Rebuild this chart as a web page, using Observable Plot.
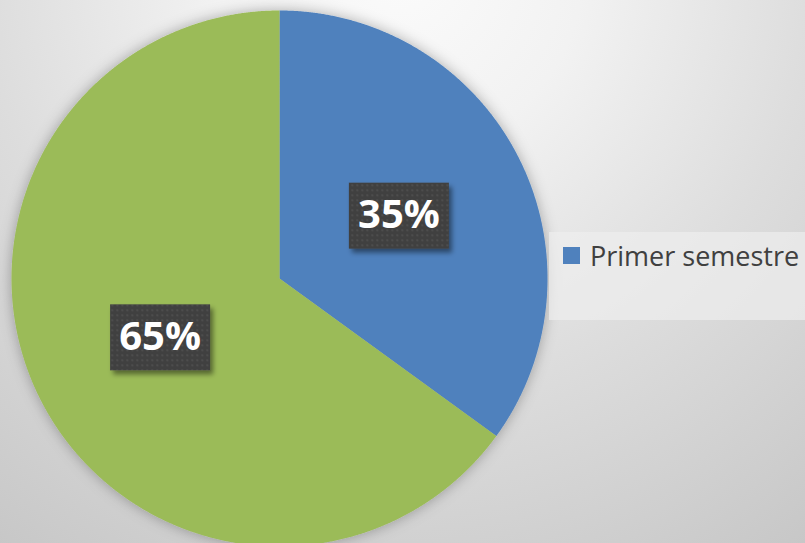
<!DOCTYPE html>
<html><head><meta charset="utf-8">
<script src="https://cdn.jsdelivr.net/npm/d3@7"></script>
<script src="https://cdn.jsdelivr.net/npm/@observablehq/plot@0.6"></script>
<style>
html,body{margin:0;padding:0;background:#d4d4d4;}
#wrap{position:relative;width:805px;height:543px;overflow:hidden;
  background:radial-gradient(circle 730px at 400px -30px, #fbfbfb 0%, #f2f2f2 25%, #dddddd 57%, #c6c6c6 98%, #c5c5c5 100%);}
#wrap svg{position:absolute;left:0;top:0;}
#legend{position:absolute;left:549px;top:232px;width:270px;height:88px;background:rgba(238,238,238,0.7);
  font-family:"Open Sans",sans-serif;font-size:27px;color:#404040;}
#legend .item{position:absolute;left:14px;top:5px;white-space:nowrap;display:flex;align-items:center;}
#legend .sw{width:17px;height:17px;margin-right:10px;}
</style></head><body><div id="wrap"><div id="legend"></div></div>
<script>
const categories = ["Primer semestre", "Segundo semestre"];
const values = [35, 65];
const labels = ["35%", "65%"];
const colors = ["#4F81BD", "#9BBB59"];
const legendItems = ["Primer semestre"];

const arcs = d3.pie().sort(null).value(d => d.value)(
  categories.map((c, i) => ({category: c, value: values[i], label: labels[i]}))
);
// slice outlines (geometry only)
const slicePts = [];
for (const a of arcs) {
  const n = Math.ceil((a.endAngle - a.startAngle) / 0.004);
  slicePts.push({category: a.data.category, x: 0, y: 0});
  for (let k = 0; k <= n; k++) {
    const t = a.startAngle + (a.endAngle - a.startAngle) * k / n;
    slicePts.push({category: a.data.category, x: Math.sin(t), y: Math.cos(t)});
  }
}
const labelPts = arcs.map(a => {
  const m = (a.startAngle + a.endAngle) / 2;
  return {label: a.data.label, x: 0.5 * Math.sin(m), y: 0.5 * Math.cos(m)};
});

const plot = Plot.plot({
  width: 805, height: 543,
  style: {background: "transparent", overflow: "visible"},
  x: {domain: [-1, 1], range: [11, 547], axis: null},
  y: {domain: [-1, 1], range: [546, 10], axis: null},
  color: {domain: categories, range: colors},
  marks: [
    Plot.line(slicePts, {x: "x", y: "y", z: "category", fill: "category", stroke: "none", curve: "linear", className: "slices"}),
    Plot.text(labelPts, {x: "x", y: "y", text: "label", fill: "white", fontSize: 40, fontWeight: "bold",
      fontFamily: "Open Sans", className: "plabels", dy: -2})
  ]
});
document.getElementById("wrap").prepend(plot);

// defs: dotted pattern + shadows
const svg = d3.select(plot);
const defs = svg.insert("defs", ":first-child");
const pat = defs.append("pattern").attr("id", "dots").attr("width", 5).attr("height", 5).attr("patternUnits", "userSpaceOnUse");
pat.append("rect").attr("width", 5).attr("height", 5).attr("fill", "#404040");
pat.append("rect").attr("x", 1).attr("y", 1).attr("width", 1.6).attr("height", 1.6).attr("fill", "#565656");
const f = defs.append("filter").attr("id", "boxshadow").attr("x", "-20%").attr("y", "-20%").attr("width", "150%").attr("height", "150%");
f.append("feDropShadow").attr("dx", 3).attr("dy", 4).attr("stdDeviation", 2.5).attr("flood-color", "#000").attr("flood-opacity", 0.45);
const f2 = defs.append("filter").attr("id", "pieshadow").attr("x", "-10%").attr("y", "-10%").attr("width", "120%").attr("height", "120%");
f2.append("feDropShadow").attr("dx", 0).attr("dy", 0).attr("stdDeviation", 7).attr("flood-color", "#000").attr("flood-opacity", 0.3);
svg.select("g.slices").attr("filter", "url(#pieshadow)");

// boxes behind label texts
const sx = plot.scale("x"), sy = plot.scale("y");
const lg = svg.select("g.plabels");
labelPts.forEach(p => {
  const cx = sx.apply(p.x), cy = sy.apply(p.y);
  lg.insert("rect", ":first-child")
    .attr("x", cx - 50).attr("y", cy - 33).attr("width", 100).attr("height", 66)
    .attr("fill", "url(#dots)").attr("filter", "url(#boxshadow)");
});

// legend
const cs = plot.scale("color");
const leg = d3.select("#legend");
legendItems.forEach((name, i) => {
  const it = leg.append("div").attr("class", "item");
  it.append("div").attr("class", "sw").style("background", cs.apply(name));
  it.append("span").text(name);
});
</script>
</body></html>
